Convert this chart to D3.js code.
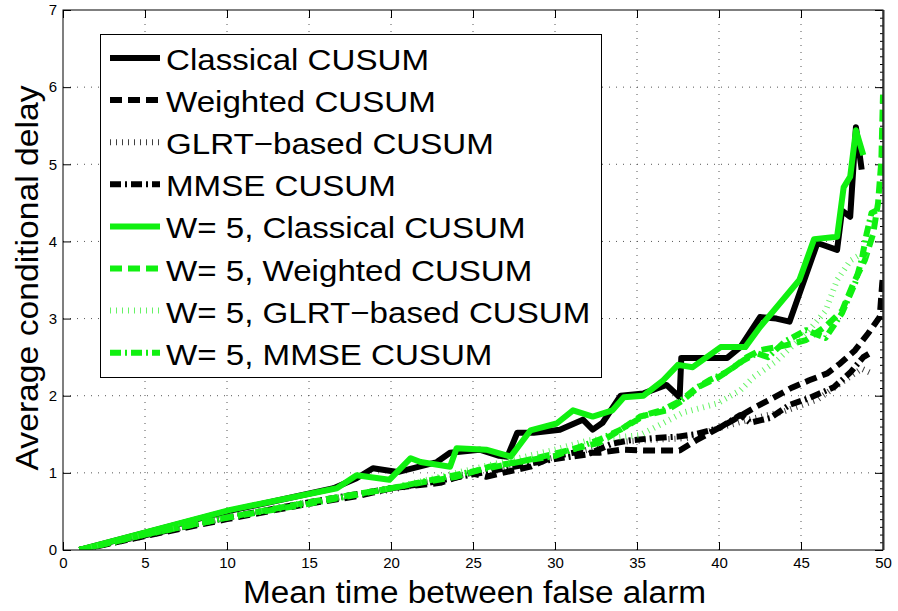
<!DOCTYPE html>
<html><head><meta charset="utf-8">
<script src="https://cdn.jsdelivr.net/npm/d3@7"></script>
<style>body{margin:0;background:#fff}svg{display:block}text{font-family:"Liberation Sans",Arial,sans-serif}</style>
</head><body><svg id="c" width="898" height="611"></svg>
<script>
const xTicks = [0,5,10,15,20,25,30,35,40,45,50];
const yTicks = [0,1,2,3,4,5,6,7];
const seriesNames = ["Classical CUSUM","Weighted CUSUM","GLRT\u2212based CUSUM","MMSE CUSUM",
  "W= 5, Classical CUSUM","W= 5, Weighted CUSUM","W= 5, GLRT\u2212based CUSUM","W= 5, MMSE CUSUM"];
const classicalX = [1,10,16.5,17.9,18.9,20.4,22.8,23.6,25.4,26.6,27.1,27.7,28.7,30.3,31.7,32.3,32.9,34.0,35.4,36.8,37.6,37.7,40.5,41.3,42.5,43.5,44.3,45.7,46,47.2,47.5,48,48.35,48.7];
const classicalY = [0,0.5,0.8,0.93,1.06,1.01,1.14,1.26,1.3,1.22,1.21,1.52,1.52,1.56,1.69,1.56,1.65,2.0,2.03,2.14,1.98,2.49,2.49,2.63,3.02,3.0,2.96,3.8,3.98,3.89,4.4,4.32,5.48,4.93];
const weightedX = [1,5,10,15,18,20,23,24.8,25.8,26.8,28.5,29.9,31.1,32.7,34,35.5,37.6,38.6,39.8,41,42.2,43.3,44.4,45.5,46.6,47.4,48.3,49.1,49.8,49.95,50];
const weightedY = [0,0.18,0.4,0.6,0.7,0.8,0.87,1.0,0.95,1.0,1.08,1.21,1.26,1.26,1.3,1.29,1.29,1.42,1.56,1.7,1.85,1.97,2.1,2.2,2.29,2.42,2.59,2.81,3.02,3.45,3.55];
const glrtX = [1,5,10,15,20,25,28,30,32,34,36,38,40,42,44,46,47,48,48.7,49.2];
const glrtY = [0,0.18,0.42,0.62,0.78,1.0,1.12,1.2,1.3,1.4,1.43,1.45,1.58,1.7,1.8,1.95,2.1,2.25,2.35,2.3];
const mmseX = [1,5,10,15,20,22,25,27,30,32,33.5,34.5,36,37.5,38.5,40,41.3,41.9,43.1,44.3,45.5,47,48,48.8,49.2];
const mmseY = [0,0.19,0.42,0.62,0.8,0.86,0.98,1.06,1.18,1.24,1.38,1.42,1.45,1.47,1.5,1.58,1.75,1.65,1.71,1.88,1.97,2.11,2.3,2.5,2.55];
const w5ClassicalX = [1,10.2,16.7,17.9,19.9,21.2,21.8,23.6,24,25.8,27.3,28.5,30.1,31.1,32.3,33.5,34.2,35.4,36.6,37.5,38.4,40.1,41.6,42.5,44.9,45.8,47.2,47.6,48,48.35,48.8];
const w5ClassicalY = [0,0.52,0.8,0.97,0.91,1.19,1.14,1.08,1.32,1.3,1.21,1.55,1.64,1.81,1.73,1.81,1.98,2.0,2.2,2.4,2.37,2.63,2.63,2.89,3.5,4.03,4.06,4.7,4.84,5.44,5.12];
const w5WeightedX = [1,5,10,15,20,22,24,26,28,30,32.7,34,35.2,36.8,37.8,38.8,39.9,40.9,41.7,42.5,44,45.3,46.5,47.5,48.2,48.9,49.4,49.7,49.9,50];
const w5WeightedY = [0,0.2,0.42,0.62,0.8,0.88,0.95,1.08,1.15,1.25,1.39,1.56,1.73,1.81,1.94,2.12,2.23,2.37,2.5,2.59,2.65,2.72,2.9,3.1,3.46,3.76,4.1,4.5,5.05,5.9];
const w5GlrtX = [1,5,10,15,20,25,28,30,32,35.2,37.8,39.9,41.3,42.1,43.5,44.5,45.5,46.5,47.2,48,48.8,49.2];
const w5GlrtY = [0,0.2,0.42,0.62,0.8,1.05,1.2,1.3,1.42,1.49,1.78,1.9,2.07,2.24,2.45,2.65,2.85,3.1,3.5,3.75,3.85,3.8];
const w5MmseX = [1,5,10,15,20,25,28,30,32.7,34,35.5,36.5,37.7,38.6,39.4,40.4,41.5,42.3,43,44,45.3,46.5,47.5,48.3,48.7,49,49.3,49.6];
const w5MmseY = [0,0.2,0.42,0.6,0.8,1.02,1.15,1.22,1.43,1.56,1.75,1.81,1.94,2.1,2.2,2.3,2.46,2.55,2.5,2.7,2.85,2.75,3.07,3.46,3.76,4.1,4.37,4.4];

const GREEN = "#10f010";
const styles = [
  {c:"#000", w:6, d:null},
  {c:"#000", w:6, d:"12,6"},
  {c:"#000", w:6, d:"1,5", o:0.75},
  {c:"#000", w:6, d:"11,4,2,4"},
  {c:GREEN, w:6, d:null},
  {c:GREEN, w:6, d:"12,6"},
  {c:"#3ef03e", w:6, d:"1,5", o:0.8},
  {c:GREEN, w:6, d:"11,4,2,4"}
];
const seriesX = [classicalX,weightedX,glrtX,mmseX,w5ClassicalX,w5WeightedX,w5GlrtX,w5MmseX];
const seriesY = [classicalY,weightedY,glrtY,mmseY,w5ClassicalY,w5WeightedY,w5GlrtY,w5MmseY];

const svg = d3.select("#c");
const L=63,R=883,T=10,B=550;
const x = d3.scaleLinear().domain([0,50]).range([L,R]);
const y = d3.scaleLinear().domain([0,7]).range([B,T]);

const g = svg.append("g");
g.selectAll(".vg").data(xTicks.slice(1,-1)).join("line")
  .attr("x1",d=>x(d)).attr("x2",d=>x(d)).attr("y1",T).attr("y2",B)
  .attr("stroke","#555").attr("stroke-width",1).attr("stroke-dasharray","1,6");
g.selectAll(".hg").data(yTicks.slice(1,-1)).join("line")
  .attr("y1",d=>y(d)).attr("y2",d=>y(d)).attr("x1",L).attr("x2",R)
  .attr("stroke","#555").attr("stroke-width",1).attr("stroke-dasharray","1,6");

const fmt = d3.format("d");
const xb = svg.append("g").attr("transform",`translate(0,${B})`)
  .call(d3.axisBottom(x).tickValues(xTicks).tickFormat(fmt).tickSizeInner(-8).tickSizeOuter(0).tickPadding(7));
const xt = svg.append("g").attr("transform",`translate(0,${T})`)
  .call(d3.axisTop(x).tickValues(xTicks).tickSizeInner(-8).tickSizeOuter(0).tickFormat(""));
const yl = svg.append("g").attr("transform",`translate(${L},0)`)
  .call(d3.axisLeft(y).tickValues(yTicks).tickFormat(fmt).tickSizeInner(-8).tickSizeOuter(0).tickPadding(6));
const yr = svg.append("g").attr("transform",`translate(${R},0)`)
  .call(d3.axisRight(y).tickValues(yTicks).tickSizeInner(-8).tickSizeOuter(0).tickFormat(""));
const yrMinor = svg.append("g").attr("transform",`translate(${R},0)`)
  .call(d3.axisRight(y).tickValues(d3.range(0,70).map(i=>i/10)).tickSizeInner(-3).tickSizeOuter(0).tickFormat(""));
[xb,xt,yl,yr,yrMinor].forEach(a=>{
  a.select(".domain").remove();
  a.selectAll("line").attr("stroke","#000");
  a.selectAll("text").attr("font-size",15).attr("fill","#000").attr("font-family","Liberation Sans, Arial, sans-serif");
});

svg.append("clipPath").attr("id","pc").append("rect").attr("x",L).attr("y",T).attr("width",R-L).attr("height",B-T);
const line = d3.line().x(d=>x(d[0])).y(d=>y(d[1]));
const lg = svg.append("g").attr("clip-path","url(#pc)");
seriesX.forEach((xs,i)=>{
  const s = styles[i];
  lg.append("path").datum(xs.map((v,j)=>[v,seriesY[i][j]]))
    .attr("d",line).attr("fill","none").attr("stroke",s.c).attr("stroke-width",s.w)
    .attr("stroke-dasharray",s.d).attr("stroke-opacity",s.o||1)
    .attr("stroke-linejoin","round");
});

svg.append("rect").attr("x",L).attr("y",T).attr("width",R-L).attr("height",B-T)
  .attr("fill","none").attr("stroke","#000").attr("stroke-width",1);
svg.append("line").attr("x1",R+0.5).attr("x2",R+0.5).attr("y1",T).attr("y2",B).attr("stroke","#333").attr("stroke-width",2);

const leg = svg.append("g");
leg.append("rect").attr("x",100.5).attr("y",34.5).attr("width",501).attr("height",343)
  .attr("fill","#fff").attr("stroke","#000").attr("stroke-width",1);
seriesNames.forEach((n,i)=>{
  const yy = 58 + i*42.1;
  const s = styles[i];
  leg.append("line").attr("x1",110).attr("x2",160).attr("y1",yy).attr("y2",yy)
    .attr("stroke",s.c).attr("stroke-width",s.w).attr("stroke-dasharray",s.d).attr("stroke-opacity",s.o||1);
  leg.append("text").attr("transform",`translate(166,${yy+12}) scale(1.104,1)`)
    .attr("font-size",30).attr("fill","#000").text(n);
});

svg.append("text").attr("x",(243+706)/2).attr("y",603).attr("text-anchor","middle")
  .attr("font-size",31).attr("textLength",463).attr("lengthAdjust","spacingAndGlyphs").text("Mean time between false alarm");
svg.append("text").attr("transform","translate(38,278) rotate(-90)").attr("text-anchor","middle")
  .attr("font-size",31).attr("textLength",385).attr("lengthAdjust","spacingAndGlyphs").text("Average conditional delay");
</script></body></html>
